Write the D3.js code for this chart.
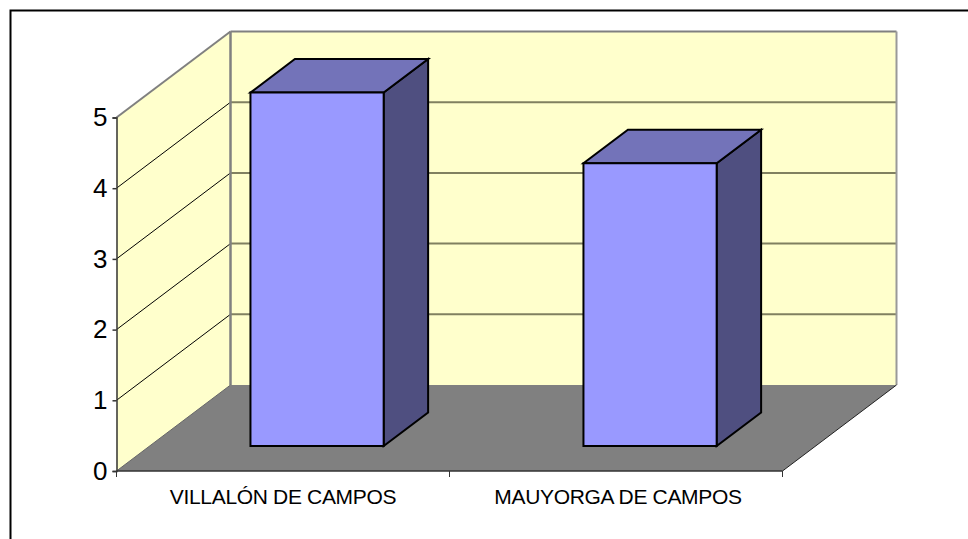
<!DOCTYPE html>
<html><head><meta charset="utf-8">
<script src="https://cdn.jsdelivr.net/npm/d3@7"></script>
<style>html,body{margin:0;padding:0;background:#fff}svg{display:block}text{font-family:"Liberation Sans",Arial,sans-serif;fill:#000}</style>
</head><body><div id="c"></div>
<script>
const categories = ["VILLALÓN DE CAMPOS", "MAUYORGA DE CAMPOS"];
const values = [5, 4];
const yTicks = [0, 1, 2, 3, 4, 5];

const W = 968, H = 539;
const svg = d3.select("#c").append("svg").attr("width", W).attr("height", H);

// Frame
svg.append("path").attr("d", "M10.5,539V10.5H968").attr("fill", "none").attr("stroke", "#000").attr("stroke-width", 2);

const x = d3.scaleBand().domain(categories).range([117.5, 783.5]).paddingInner(0.6).paddingOuter(0.3);
const y = d3.scaleLinear().domain([0, 5]).range([471, 117.5]);
const depth = { dx: 114, dy: -86 };
const P = (px, py, z) => [px + depth.dx * z, py + depth.dy * z];
const poly = pts => "M" + pts.map(p => p.join(",")).join("L") + "Z";

const xL = 116.5, xR = 782.5, y0 = y(0), y5 = y(5);
// Walls
svg.append("path").attr("d", poly([P(xL, y0, 0), P(xL, y5, 0), P(xL, y5, 1), P(xL, y0, 1)])).attr("fill", "#ffffcc");
svg.append("path").attr("d", poly([P(xL, y0, 1), P(xL, y5, 1), P(xR, y5, 1), P(xR, y0, 1)])).attr("fill", "#ffffcc");
// Floor
svg.append("path").attr("d", poly([P(xL, y0, 0), P(xR, y0, 0), P(xR, y0, 1), P(xL, y0, 1)])).attr("fill", "#808080");

const seg = (a, b, col, w) => svg.append("line").attr("x1", a[0]).attr("y1", a[1]).attr("x2", b[0]).attr("y2", b[1]).attr("stroke", col).attr("stroke-width", w);

// Gridlines
yTicks.forEach(t => {
  if (t > 0 && t < 5) {
    seg(P(xL, y(t), 0), P(xL, y(t), 1), "#000", 1);
    seg(P(xL, y(t), 1), P(xR, y(t), 1), "#808060", 2);
  }
});
// Wall edges
seg(P(xL, y5, 0), P(xL, y5, 1), "#808080", 2);
seg(P(xL, y5, 1), P(xR, y5, 1), "#808080", 2);
seg(P(xL, y5, 1), P(xL, y0, 1), "#808080", 2.5);
seg(P(xR, y5, 1), P(xR, y0, 1), "#999999", 2);
seg(P(xR, y0, 0), P(xR, y0, 1), "#222", 1);
seg(P(xL, y0, 0), P(xL, y0, 1), "#666", 1);

// Bars
const z0 = 0.29, z1 = 0.68;
categories.forEach((c, i) => {
  const l = x(c), r = l + x.bandwidth(), b = y(0), t = y(values[i]);
  const g = svg.append("g").attr("stroke", "#000").attr("stroke-width", 2).attr("stroke-linejoin", "miter");
  g.append("path").attr("d", poly([P(r, b, z0), P(r, t, z0), P(r, t, z1), P(r, b, z1)])).attr("fill", "#4f4f80");
  g.append("path").attr("d", poly([P(l, t, z0), P(r, t, z0), P(r, t, z1), P(l, t, z1)])).attr("fill", "#7373b9");
  g.append("path").attr("d", poly([P(l, b, z0), P(r, b, z0), P(r, t, z0), P(l, t, z0)])).attr("fill", "#9999ff");
});

// Y axis
const yAxis = d3.axisLeft(y).tickValues(yTicks).tickFormat(d3.format("d")).tickSize(4).tickPadding(5);
const ya = svg.append("g").attr("transform", `translate(${xL},0)`).call(yAxis);
ya.select(".domain").attr("stroke", "#333").attr("stroke-width", 1.5);
ya.selectAll(".tick line").attr("stroke", "#333").attr("stroke-width", 1.5);
ya.selectAll("text").style("font-size", "26px").attr("fill", "#000");

// X axis
const xa = svg.append("g").attr("transform", `translate(0,${y0})`);
xa.append("line").attr("x1", xL).attr("x2", xR).attr("stroke", "#333").attr("stroke-width", 1.5);
const step = (xR - xL) / categories.length;
d3.range(categories.length + 1).forEach(i => {
  xa.append("line").attr("x1", xL + i * step).attr("x2", xL + i * step).attr("y1", 0).attr("y2", 6).attr("stroke", "#333").attr("stroke-width", 1);
});
categories.forEach((c, i) => {
  xa.append("text").attr("x", xL + (i + 0.5) * step + (i ? 2 : 0)).attr("y", 33).attr("text-anchor", "middle").style("font-size", "21px").style("letter-spacing", "-0.33px").text(c);
});
</script></body></html>
